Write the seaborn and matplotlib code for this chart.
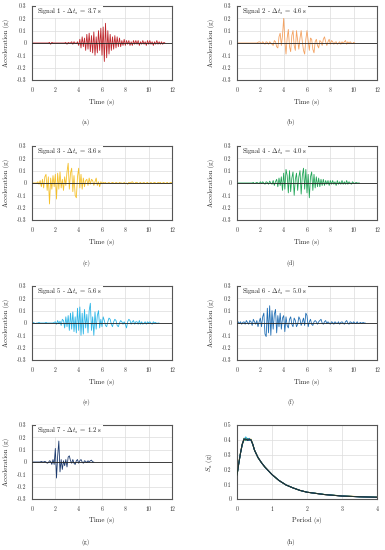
import numpy as np
import matplotlib
matplotlib.use("Agg")
import matplotlib.pyplot as plt
import seaborn as sns

# ---- data ----
DT = 0.1  # sampling step of the digitised records (s)

sig1 = [0, 0, 0, 0, 0, 0, 0, 0, 0, 0,
        0, 0, 0, 0, 0, 0.005, -0.01, 0.005, 0, 0,
        0, 0, 0, 0, 0, 0, 0, 0, 0, 0.005,
        -0.01, 0.005, 0, 0, 0.01, -0.01, 0.01, 0, -0.005, 0.01,
        -0.02, 0.03, -0.04, 0.05, -0.03, 0.04, -0.06, 0.07, -0.05, 0.08,
        -0.07, 0.06, -0.08, 0.09, -0.1, 0.05, -0.08, 0.1, -0.06, 0.12,
        -0.1, 0.13, -0.15, 0.16, -0.12, 0.1, -0.09, 0.07, -0.06, 0.05,
        -0.05, 0.06, -0.04, 0.05, -0.03, 0.04, -0.03, 0.02, -0.02, 0.03,
        -0.02, 0.02, -0.01, 0.02, -0.02, 0.01, -0.02, 0.02, -0.01, 0.02,
        -0.01, 0.02, -0.02, 0.01, -0.01, 0.02, -0.01, 0.01, -0.02, 0.02,
        -0.01, 0.02, -0.01, 0.01, -0.02, 0.01, -0.01, 0.02, -0.01, 0.01,
        -0.01, 0.01, -0.01, 0.005, 0]

sig2 = [0, 0, 0, 0, 0, 0, 0, 0, 0, 0,
        0, 0, 0, 0, 0, 0, 0, 0, 0.005, 0.01,
        0.005, -0.005, 0.01, 0, -0.01, 0.01, 0.005, -0.01, 0.01, 0,
        -0.01, -0.02, 0.02, 0.01, -0.03, -0.04, 0.05, 0.08, -0.02, 0.06,
        0.2, 0.02, -0.09, 0.04, 0.11, -0.03, -0.07, 0.06, 0.1, -0.02,
        -0.06, 0.1, 0.02, -0.05, 0.04, 0.1, 0.01, -0.06, -0.09, 0.03,
        0.1, 0.02, -0.06, 0.04, 0.03, -0.05, -0.08, 0.01, 0.03, -0.02,
        -0.04, 0.02, 0.01, -0.02, 0.03, 0.05, 0.01, -0.02, 0.01, 0.03,
        -0.01, 0.02, 0.01, -0.01, 0.005, 0.01, -0.01, 0, 0.01, -0.01,
        0.01, -0.005, 0.01, 0.02, -0.01, 0.01, -0.005, 0.01, 0, -0.005,
        0.005, 0]

sig3 = [0, 0, 0, 0, 0, 0.01, -0.01, 0.02, -0.03, 0.03,
        -0.04, 0.05, 0.07, -0.06, 0.05, -0.17, 0.04, -0.05, 0.06, -0.03,
        0.07, -0.13, 0.08, -0.05, 0.09, -0.04, 0.03, -0.06, 0.05, -0.02,
        0.09, 0.16, -0.05, 0.08, 0.12, -0.07, 0.06, -0.1, -0.12, 0.05,
        0.12, -0.04, 0.07, -0.05, 0.04, -0.03, 0.02, 0.03, -0.02, 0.04,
        -0.01, 0.03, 0.02, -0.02, 0.01, 0.04, -0.02, 0.01, -0.03, 0.01,
        -0.005, 0.005, 0, 0.005, -0.005, 0, 0.005, -0.005, 0, 0.005,
        0, -0.005, 0.005, 0, -0.005, 0.005, 0, 0, -0.005, 0.005,
        -0.005, 0, -0.01, 0.005, 0, 0.005, 0.01, 0, -0.005, 0.005,
        0.005, -0.005, 0, 0.005, -0.005, 0, 0.005, -0.005, 0, 0.005,
        -0.005, 0, 0.005, -0.005, 0, 0.005, 0, -0.005, 0.005, 0,
        0.005, -0.005, 0, 0.005, -0.005, 0, 0.005, -0.005, 0, 0.005,
        0]

sig4 = [0, 0, 0, 0, 0, 0, 0, 0, 0, 0,
        0, 0, 0, 0, 0.005, -0.005, 0, 0.005, 0, -0.005,
        0.01, -0.005, 0.01, 0, -0.01, 0.01, 0.005, -0.01, 0.015, 0,
        -0.01, 0.02, -0.02, 0.01, 0.03, -0.03, 0.04, -0.02, 0.05, -0.06,
        0.08, -0.05, 0.11, 0.06, -0.08, 0.1, -0.07, 0.04, 0.09, -0.1,
        0.03, 0.08, -0.06, 0.05, 0.1, -0.09, 0.06, 0.12, -0.05, 0.11,
        -0.08, 0.07, -0.12, 0.05, 0.09, -0.06, 0.07, -0.04, 0.05, -0.03,
        0.04, -0.03, 0.03, -0.02, 0.03, -0.02, 0.02, -0.01, 0.02, -0.02,
        0.02, -0.01, 0.02, -0.01, 0.01, -0.02, 0.02, -0.01, 0.01, -0.01,
        0.02, -0.01, 0.01, -0.01, 0.02, -0.01, 0.01, 0, -0.01, 0.01,
        0, -0.005, 0.005, 0, 0, 0]

sig5 = [0, 0.005, 0, -0.005, 0, 0, 0.005, 0, 0, 0,
        0, 0, 0.005, 0, 0, 0, 0, 0, 0, 0.005,
        0.01, -0.01, 0.02, -0.005, 0.015, -0.02, 0.03, 0.02, -0.04, 0.05,
        -0.03, 0.06, -0.06, 0.08, -0.05, 0.09, -0.07, 0.05, -0.08, 0.12,
        -0.06, 0.13, -0.1, 0.08, -0.09, 0.11, -0.04, 0.07, -0.08, 0.1,
        0.16, -0.06, 0.05, -0.1, 0.09, -0.05, 0.06, 0.1, -0.04, 0.03,
        -0.03, 0.05, 0.02, -0.02, -0.03, 0.01, 0.04, 0.03, -0.01, -0.03,
        0.01, 0.03, 0.02, -0.02, -0.03, 0, 0.02, 0.01, -0.01, 0.01,
        -0.01, -0.04, 0.01, 0.03, 0.02, -0.01, 0.01, 0.02, -0.01, 0.01,
        0.01, -0.01, 0.02, -0.01, 0.01, -0.01, 0, 0.01, -0.01, 0.01,
        0, 0.01, 0, -0.01, 0.01, 0, 0.005, -0.005, 0, 0]

sig6 = [0, 0.01, -0.005, 0.01, -0.01, 0.005, 0.01, -0.01, 0.02, 0.005,
        -0.01, 0.02, 0.01, -0.02, 0.03, 0.01, -0.01, 0.02, -0.03, 0.01,
        0.04, -0.03, 0.05, 0.08, -0.09, -0.11, 0.12, -0.08, 0.14, -0.1,
        0.1, -0.05, 0.07, 0.11, -0.08, 0.06, -0.03, 0.08, -0.05, 0.04,
        0.06, -0.07, 0.05, -0.02, -0.04, 0.03, 0.05, -0.01, -0.03, 0.04,
        0.02, -0.03, -0.01, 0.05, 0.03, -0.02, 0.01, 0.04, -0.02, 0.08,
        0.06, -0.03, 0.01, 0.03, -0.01, -0.02, 0.01, 0.02, 0.01, -0.01,
        0.01, 0.02, 0.03, 0, -0.01, 0.01, 0.02, -0.005, 0.01, 0,
        -0.01, 0.01, 0.005, -0.01, 0.01, 0, -0.005, 0.01, -0.01, 0.005,
        0.01, 0, -0.01, 0.01, 0.02, 0, -0.01, 0.01, 0.005, -0.005,
        0.01, 0, -0.005, 0.01, -0.005, 0, 0.005, -0.005, 0.005, 0,
        0]

sig7 = [0, 0, 0, 0, 0, 0, 0, 0, 0.005, 0,
        0, 0.005, 0, -0.01, -0.005, 0.01, 0.005, -0.02, 0.02, -0.02,
        0.11, -0.13, 0.05, 0.17, -0.08, 0.02, -0.06, 0.01, -0.03, 0.02,
        -0.04, 0.04, 0.05, 0.01, -0.01, 0.02, -0.01, -0.02, 0.01, 0.02,
        -0.01, 0.01, 0.02, 0, -0.01, 0.01, 0.005, -0.005, 0.01, 0,
        0.01, 0.015, 0, 0]

signals = [sig1, sig2, sig3, sig4, sig5, sig6, sig7]
durations = ["3.7", "4.6", "3.6", "4.0", "5.6", "5.0", "1.2"]
colors = ["#c0272d", "#f4a261", "#f5c02a", "#22a558", "#2cb5e6", "#1f6db3", "#1c3a6e"]
panel_tags = ["(a)", "(b)", "(c)", "(d)", "(e)", "(f)", "(g)", "(h)"]

# response spectra (panel h)
periods = [0, 0.05, 0.1, 0.15, 0.2, 0.25, 0.3, 0.35, 0.4, 0.45, 0.5, 0.6, 0.7,
           0.8, 0.9, 1.0, 1.2, 1.4, 1.6, 1.8, 2.0, 2.5, 3.0, 3.5, 4.0]
sa_target = [0.16, 0.24, 0.31, 0.37, 0.405, 0.405, 0.40, 0.40, 0.40, 0.37, 0.33, 0.28, 0.245,
             0.215, 0.19, 0.165, 0.125, 0.095, 0.075, 0.058, 0.046, 0.03, 0.02, 0.015, 0.012]
sa_signals = [
    [0.16, 0.24, 0.31, 0.37, 0.41, 0.40, 0.405, 0.395, 0.40, 0.37, 0.33, 0.28, 0.245,
     0.215, 0.19, 0.165, 0.125, 0.095, 0.075, 0.058, 0.046, 0.03, 0.02, 0.015, 0.013],
    [0.16, 0.245, 0.31, 0.375, 0.40, 0.415, 0.40, 0.405, 0.395, 0.37, 0.33, 0.28, 0.245,
     0.215, 0.19, 0.165, 0.125, 0.095, 0.075, 0.058, 0.046, 0.03, 0.021, 0.016, 0.012],
    [0.16, 0.24, 0.315, 0.37, 0.395, 0.41, 0.395, 0.40, 0.405, 0.37, 0.33, 0.28, 0.245,
     0.215, 0.19, 0.165, 0.125, 0.095, 0.075, 0.058, 0.046, 0.03, 0.02, 0.016, 0.013],
    [0.16, 0.24, 0.31, 0.365, 0.41, 0.395, 0.41, 0.40, 0.40, 0.37, 0.33, 0.28, 0.245,
     0.215, 0.19, 0.165, 0.125, 0.095, 0.075, 0.058, 0.046, 0.031, 0.021, 0.015, 0.012],
    [0.16, 0.24, 0.31, 0.37, 0.40, 0.42, 0.40, 0.395, 0.40, 0.37, 0.33, 0.28, 0.245,
     0.215, 0.19, 0.165, 0.125, 0.095, 0.075, 0.058, 0.046, 0.03, 0.02, 0.015, 0.012],
    [0.16, 0.235, 0.31, 0.37, 0.405, 0.40, 0.40, 0.41, 0.395, 0.37, 0.33, 0.28, 0.245,
     0.215, 0.19, 0.165, 0.125, 0.095, 0.075, 0.058, 0.046, 0.03, 0.02, 0.015, 0.011],
    [0.16, 0.24, 0.31, 0.37, 0.40, 0.405, 0.395, 0.40, 0.40, 0.37, 0.33, 0.28, 0.245,
     0.215, 0.19, 0.165, 0.125, 0.095, 0.075, 0.058, 0.046, 0.03, 0.02, 0.015, 0.012],
]

acc_ticks = [-0.3, -0.2, -0.1, 0, 0.1, 0.2, 0.3]
time_ticks = [0, 2, 4, 6, 8, 10, 12]
sa_ticks = [0, 0.1, 0.2, 0.3, 0.4, 0.5]
period_ticks = [0, 1, 2, 3, 4]

# ---- style ----
sns.set_theme(style="whitegrid")
plt.rcParams["font.family"] = ["cmr10", "DejaVu Serif"]
plt.rcParams["mathtext.fontset"] = "cm"
plt.rcParams["axes.unicode_minus"] = False
plt.rcParams["axes.formatter.use_mathtext"] = False

W, H = 385, 550
fig = plt.figure(figsize=(W / 100, H / 100), dpi=100)
fig.patch.set_facecolor("white")

col_x = [32, 237]
row_y = [6, 146, 286, 425]
AW, AH = 140, 74
tag_x = [86, 291]
tag_y = [123, 263, 403, 542]


def fmt(v):
    return "0" if v == 0 else f"{v:g}"


def style_axes(ax, xticks, yticks, xlabel, ylabel):
    ax.set_facecolor("white")
    ax.grid(True, color="#dcdcdc", lw=0.5)
    ax.set_xticks(xticks)
    ax.set_yticks(yticks)
    ax.set_xticklabels([fmt(v) for v in xticks])
    ax.set_yticklabels([fmt(v) for v in yticks])
    ax.set_xlim(xticks[0], xticks[-1])
    ax.set_ylim(yticks[0], yticks[-1])
    ax.tick_params(axis="x", length=0, pad=5.0, labelsize=4.2, colors="#333333")
    ax.tick_params(axis="y", length=0, pad=4.0, labelsize=4.2, colors="#333333")
    for sp in ax.spines.values():
        sp.set_color("#555555")
        sp.set_linewidth(0.8)
    ax.set_xlabel(xlabel, fontsize=4.9, color="#222222")
    ax.set_ylabel(ylabel, fontsize=4.9, color="#222222")
    ax.xaxis.set_label_coords(0.5, -0.25)
    ax.yaxis.set_label_coords(-0.155, 0.5)


for i, acc in enumerate(signals):
    r, c = divmod(i, 2)
    left = col_x[c] / W
    bottom = 1 - (row_y[r] + AH) / H
    ax = fig.add_axes([left, bottom, AW / W, AH / H])
    t = np.arange(len(acc)) * DT
    sns.lineplot(x=t, y=acc, ax=ax, color=colors[i], lw=0.6, zorder=2)
    ax.axhline(0, color="#222222", lw=0.6, zorder=3)
    style_axes(ax, time_ticks, acc_ticks, "Time (s)", "Acceleration (g)")
    ax.text(0.035, 0.915, f"Signal {i + 1} - $\\Delta t_s$ = {durations[i]} s",
            transform=ax.transAxes, fontsize=4.8, va="center", ha="left", color="#222222",
            zorder=5, bbox=dict(facecolor="white", edgecolor="none", pad=0.6))
    fig.text(tag_x[c] / W, 1 - tag_y[r] / H, panel_tags[i], fontsize=4.6,
             ha="center", va="center", color="#222222")

# response spectrum panel
ax = fig.add_axes([col_x[1] / W, 1 - (row_y[3] + AH) / H, AW / W, AH / H])
for i, sa in enumerate(sa_signals):
    sns.lineplot(x=periods, y=sa, ax=ax, color=colors[i], lw=0.7, zorder=2)
sns.lineplot(x=periods, y=sa_target, ax=ax, color="#24352c", lw=0.7, zorder=3)
style_axes(ax, period_ticks, sa_ticks, "Period (s)", "$S_a$ (g)")
fig.text(tag_x[1] / W, 1 - tag_y[3] / H, panel_tags[7], fontsize=4.6,
         ha="center", va="center", color="#222222")

fig.savefig("out.png", dpi=100, facecolor="white")
